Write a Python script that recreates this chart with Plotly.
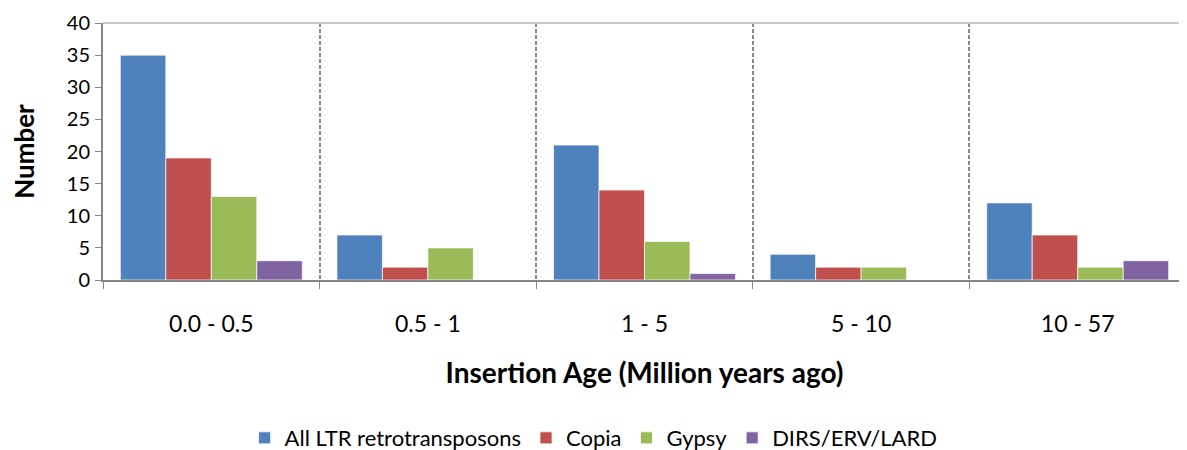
import plotly.graph_objects as go

# categories and series values
age_bins = ["0.0 - 0.5", "0.5 - 1", "1 - 5", "5 - 10", "10 - 57"]
all_ltr = [35, 7, 21, 4, 12]
copia = [19, 2, 14, 2, 7]
gypsy = [13, 5, 6, 2, 2]
dirs_erv_lard = [3, 0, 1, 0, 3]

series = [
    ("All LTR retrotransposons", all_ltr, "#4F81BD"),
    ("Copia", copia, "#C0504D"),
    ("Gypsy", gypsy, "#9BBB59"),
    ("DIRS/ERV/LARD", dirs_erv_lard, "#8064A2"),
]

FONT = "Lato"
AXIS_GRAY = "#868686"

fig = go.Figure()
for name, vals, color in series:
    fig.add_trace(go.Bar(
        x=age_bins,
        y=vals,
        name=name,
        marker=dict(color=color, line=dict(color="rgba(255,255,255,0.7)", width=1)),
    ))

# page body has an 8px margin, so the figure is sized to fit inside the window
fig.update_layout(
    width=1179,
    height=442,
    barmode="group",
    bargap=0.16,
    bargroupgap=0,
    plot_bgcolor="white",
    paper_bgcolor="white",
    font=dict(family=FONT, size=20, color="#000000"),
    margin=dict(l=95, r=1, t=15, b=170, autoexpand=False),
    legend=dict(
        orientation="h",
        x=0.453,
        xanchor="center",
        y=-0.615,
        yanchor="middle",
        font=dict(size=22),
        itemwidth=30,
    ),
    xaxis=dict(
        automargin=False,
        tickson="boundaries",
        ticks="outside",
        ticklen=7,
        tickcolor=AXIS_GRAY,
        showline=True,
        linecolor=AXIS_GRAY,
        linewidth=2,
        showgrid=True,
        gridcolor="#8a8a8a",
        griddash="4px,2px",
        gridwidth=1.5,
        tickfont=dict(size=23),
        ticklabelstandoff=22,
        title=dict(text="<b>Insertion Age (Million years ago)</b>", font=dict(size=28), standoff=28),
    ),
    yaxis=dict(
        automargin=False,
        range=[0, 40],
        dtick=5,
        ticks="outside",
        ticklen=6,
        tickcolor=AXIS_GRAY,
        showline=True,
        linecolor=AXIS_GRAY,
        linewidth=2,
        showgrid=False,
        zeroline=False,
        tickfont=dict(size=20),
        ticklabelstandoff=1,
        title=dict(text="<b>Number</b>", font=dict(size=26), standoff=27),
    ),
    shapes=[
        dict(type="line", xref="paper", yref="paper", x0=0, x1=1, y0=1, y1=1,
             line=dict(color="#c8c8c8", width=2)),
        dict(type="line", xref="paper", yref="paper", x0=1, x1=1, y0=0, y1=1,
             line=dict(color="#c8c8c8", width=1)),
    ],
)

fig.write_html("out.html")
